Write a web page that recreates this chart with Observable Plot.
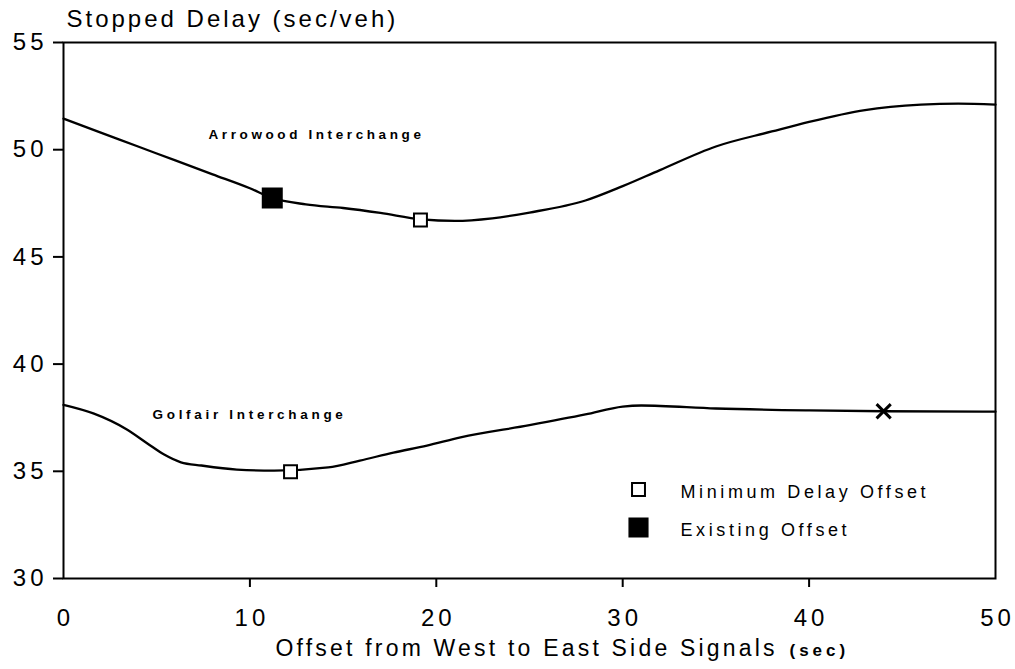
<!DOCTYPE html>
<html>
<head>
<meta charset="utf-8">
<script src="https://cdn.jsdelivr.net/npm/d3@7"></script>
<script src="https://cdn.jsdelivr.net/npm/@observablehq/plot@0.6"></script>
<style>
  html, body { margin: 0; padding: 0; background: #fff; }
  #chart svg { display: block; }
</style>
</head>
<body>
<div id="chart"></div>
<script>
// ---- Data ----
const arrowoodX = [0, 2, 4, 6, 8, 10, 11.2, 13, 15, 17, 19.2, 21, 23, 25, 28, 30, 32, 35, 38, 40, 43, 46, 48, 50];
const arrowoodY = [51.45, 50.8, 50.15, 49.5, 48.85, 48.2, 47.75, 47.45, 47.28, 47.05, 46.75, 46.68, 46.8, 47.07, 47.63, 48.3, 49.05, 50.15, 50.85, 51.3, 51.85, 52.1, 52.15, 52.1];

const golfairX = [0, 1.6, 3.4, 4.5, 5.4, 6.3, 7.4, 9.3, 11.3, 14.2, 15.9, 17.7, 19.5, 21.3, 25, 28, 30, 31, 35, 40, 44, 50];
const golfairY = [38.1, 37.7, 36.95, 36.3, 35.78, 35.42, 35.27, 35.08, 35.03, 35.18, 35.5, 35.87, 36.2, 36.58, 37.15, 37.65, 38.02, 38.07, 37.93, 37.84, 37.8, 37.78];

const minDelayX = [19.15, 12.18];
const minDelayY = [46.72, 34.98];
const existingX = [11.2];
const existingY = [47.75];
const crossX = [44];
const crossY = [37.8];

const xTicks = [0, 10, 20, 30, 40, 50];
const xInnerTicks = [10, 20, 30, 40];
const yTicks = [30, 35, 40, 45, 50, 55];

const seriesNames = ["Arrowood Interchange", "Golfair Interchange"];
const legendLabels = ["Minimum Delay Offset", "Existing Offset"];
const yTitle = "Stopped Delay (sec/veh)";
const xTitle = "Offset from West to East Side Signals";
const xUnit = "(sec)";

// ---- Build tables ----
const arrowood = arrowoodX.map((x, i) => ({x, y: arrowoodY[i]}));
const golfair = golfairX.map((x, i) => ({x, y: golfairY[i]}));
const minDelay = minDelayX.map((x, i) => ({x, y: minDelayY[i]}));
const existing = existingX.map((x, i) => ({x, y: existingY[i]}));
const cross = crossX.map((x, i) => ({x, y: crossY[i]}));

const FONT = "'Liberation Sans', Arial, Helvetica, sans-serif";
const TICK_LS = 4;

const chart = Plot.plot({
  width: 1015,
  height: 669,
  marginLeft: 63,
  marginRight: 20,
  marginTop: 42,
  marginBottom: 91,
  style: {fontFamily: FONT, background: "#fff", color: "#000"},
  x: {domain: [0, 50]},
  y: {domain: [30, 55]},
  marks: [
    Plot.frame({stroke: "#000", strokeWidth: 2}),
    Plot.axisY({ticks: yTicks, tickSize: 10, tickPadding: 6, fontSize: 24, stroke: "#000", strokeWidth: 2, label: null}),
    Plot.axisX({ticks: xTicks, tickSize: 0, tickPadding: 30, fontSize: 24, dx: TICK_LS / 2, label: null}),
    Plot.axisX({ticks: xInnerTicks, tickSize: 9, text: null, label: null, stroke: "#000", strokeWidth: 2}),
    Plot.line(arrowood, {x: "x", y: "y", curve: "monotone-x", stroke: "#000", strokeWidth: 2.3}),
    Plot.line(golfair, {x: "x", y: "y", curve: "monotone-x", stroke: "#000", strokeWidth: 2.3}),
    Plot.dot(minDelay, {x: "x", y: "y", symbol: "square", r: 7.3, fill: "#fff", stroke: "#000", strokeWidth: 2}),
    Plot.dot(existing, {x: "x", y: "y", symbol: "square", r: 11, fill: "#000", stroke: "#000"}),
    Plot.dot(cross, {x: "x", y: "y", symbol: "times", r: 6.5, stroke: "#000", strokeWidth: 3}),
    // curve labels
    Plot.text([seriesNames[0]], {frameAnchor: "top-left", dx: 145, dy: 92, lineAnchor: "middle", text: d => d, textAnchor: "start", fontSize: 13.5, fontWeight: "bold", fill: "#000"}),
    Plot.text([seriesNames[1]], {frameAnchor: "top-left", dx: 89, dy: 372, lineAnchor: "middle", text: d => d, textAnchor: "start", fontSize: 13.5, fontWeight: "bold", fill: "#000"}),
    // legend
    Plot.dot([legendLabels[0]], {frameAnchor: "top-left", dx: 575, dy: 447, symbol: "square", r: 7.3, fill: "#fff", stroke: "#000", strokeWidth: 2}),
    Plot.dot([legendLabels[1]], {frameAnchor: "top-left", dx: 575, dy: 485, symbol: "square", r: 10.5, fill: "#000", stroke: "#000"}),
    Plot.text([legendLabels[0]], {frameAnchor: "top-left", dx: 617, dy: 450, lineAnchor: "middle", text: d => d, textAnchor: "start", fontSize: 18, fill: "#000"}),
    Plot.text([legendLabels[1]], {frameAnchor: "top-left", dx: 617, dy: 488, lineAnchor: "middle", text: d => d, textAnchor: "start", fontSize: 18, fill: "#000"}),
    // titles
    Plot.text([yTitle], {frameAnchor: "top-left", dx: 3, dy: -23, lineAnchor: "middle", text: d => d, textAnchor: "start", fontSize: 24, fill: "#000"}),
    Plot.text([xTitle], {frameAnchor: "bottom-left", dx: 212, dy: 70, lineAnchor: "middle", text: d => d, textAnchor: "start", fontSize: 23, fill: "#000"}),
    Plot.text([xUnit], {frameAnchor: "bottom-left", dx: 726, dy: 72, lineAnchor: "middle", text: d => d, textAnchor: "start", fontSize: 17, fontWeight: "bold", fill: "#000"})
  ]
});

// letter-spacing (styling only)
const spacing = new Map([
  [yTitle, 3], [xTitle, 3.2], [xUnit, 4],
  [seriesNames[0], 3.6], [seriesNames[1], 3.7],
  [legendLabels[0], 3.6], [legendLabels[1], 3.6]
]);
d3.select(chart).selectAll("text").each(function() {
  const t = this.textContent;
  if (spacing.has(t)) this.style.letterSpacing = spacing.get(t) + "px";
});
d3.select(chart)
  .selectAll('g[aria-label="y-axis tick label"] text, g[aria-label="x-axis tick label"] text')
  .style("letter-spacing", TICK_LS + "px");

document.getElementById("chart").appendChild(chart);
</script>
</body>
</html>
